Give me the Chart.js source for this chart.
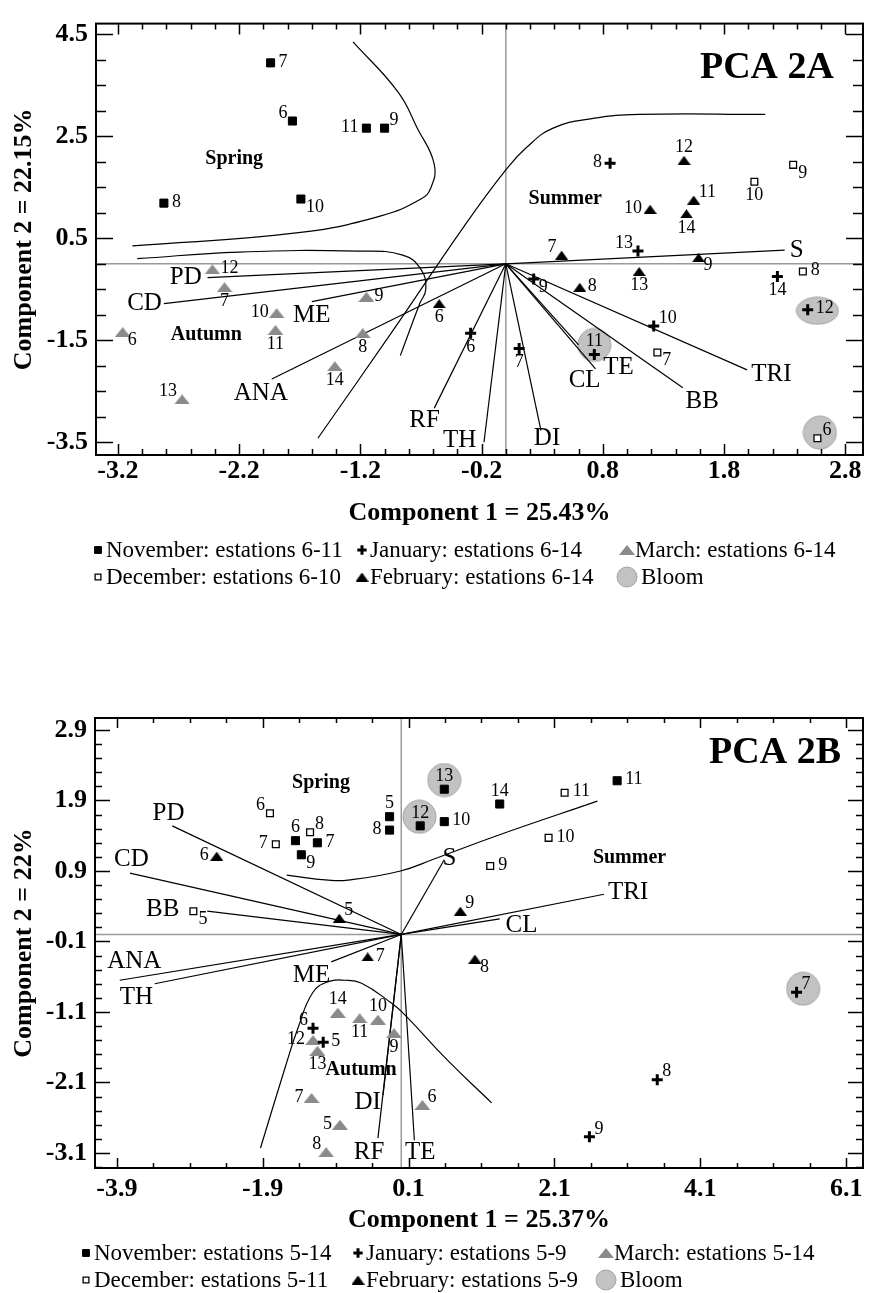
<!DOCTYPE html>
<html>
<head>
<meta charset="utf-8">
<script src="https://cdn.jsdelivr.net/npm/chart.js@4.4.1/dist/chart.umd.min.js"></script>
<style>
    body { margin: 0; background: #fff; }
    canvas { display: block; }
</style>
</head>
<body>
<canvas id="pcaA" width="872" height="640"></canvas>
<canvas id="pcaB" width="872" height="653"></canvas>
<script>
//#region PCA 2A - dados
const xTicksA = [-3.2, -2.2, -1.2, -0.2, 0.8, 1.8, 2.8]
const yTicksA = [-3.5, -1.5, 0.5, 2.5, 4.5]
const xRangeA = [-3.38, 2.946]
const yRangeA = [-3.749, 4.71]

const novA = [[-1.94, 3.94], [-1.76, 2.80], [-1.15, 2.66], [-1.00, 2.66], [-2.82, 1.19], [-1.69, 1.27]]
const novANum = ['7', '6', '11', '9', '8', '10']
const novALado = ['e', 'nw', 'w', 'ne', 'e', 'se']

const decA = [[2.37, 1.94], [2.05, 1.61], [2.45, -0.15], [1.25, -1.74], [2.57, -3.42]]
const decANum = ['9', '10', '8', '7', '6']
const decALado = ['se', 's', 'e', 'se', 'ne']

const janA = [[0.86, 1.97], [1.09, 0.25], [2.24, -0.25], [2.49, -0.90], [1.22, -1.22], [0.73, -1.78], [0.23, -0.30], [0.11, -1.66], [-0.29, -1.36]]
const janANum = ['8', '13', '14', '12', '10', '11', '9', '7', '6']
const janALado = ['w', 'nw', 's', 'e', 'ne', 'n', 'se', 's', 's']

const fevA = [[1.47, 2.03], [1.55, 1.25], [1.19, 1.07], [1.49, 0.98], [0.46, 0.17], [1.59, 0.12], [1.10, -0.15], [0.61, -0.46], [-0.55, -0.78]]
const fevANum = ['12', '11', '10', '14', '7', '9', '13', '8', '6']
const fevALado = ['n', 'ne', 'w', 's', 'nw', 'se', 's', 'e', 's']

const marA = [[-2.42, -0.11], [-2.32, -0.46], [-1.89, -0.97], [-1.90, -1.30], [-1.15, -0.65], [-1.18, -1.36], [-1.41, -2.01], [-3.16, -1.34], [-2.67, -2.66]]
const marANum = ['12', '7', '10', '11', '9', '8', '14', '6', '13']
const marALado = ['e', 's', 'w', 's', 'e', 's', 's', 'se', 'nw']

const bloomA = [[0.73, -1.59], [2.57, -0.92], [2.59, -3.31]]
const bloomAForma = ['redonda', 'larga', 'redonda']

const varA = ['S', 'TRI', 'BB', 'TE', 'CL', 'DI', 'TH', 'RF', 'ANA', 'ME', 'CD', 'PD']
const varAFim = [[2.30, 0.27], [1.99, -2.08], [1.46, -2.43], [0.60, -1.59], [0.74, -2.06], [0.29, -3.27], [-0.18, -3.50], [-0.59, -2.83], [-1.93, -2.26], [-1.60, -0.74], [-2.82, -0.78], [-2.46, -0.27]]
const varARotulo = [[2.40, 0.27], [2.19, -2.16], [1.62, -2.70], [0.93, -2.03], [0.65, -2.28], [0.34, -3.42], [-0.38, -3.46], [-0.67, -3.08], [-2.02, -2.54], [-1.60, -1.01], [-2.98, -0.78], [-2.64, -0.27]]

// limites das estacoes do ano
const springA = [[-1.26, 4.35], [-0.89, 3.37], [-0.73, 2.66], [-0.59, 1.95], [-0.62, 1.48], [-0.70, 1.27], [-1.03, 0.94], [-1.71, 0.61], [-3.08, 0.35]]
const summerA = [[-1.55, -3.42], [-0.94, -1.34], [-0.34, 0.75], [0.00, 1.84], [0.17, 2.28], [0.39, 2.66], [0.72, 2.85], [1.10, 2.93], [2.14, 2.93]]
const autumnA = [[-3.04, 0.10], [-2.20, 0.23], [-1.22, 0.25], [-0.85, 0.17], [-0.70, -0.11], [-0.66, -0.50], [-0.71, -0.78], [-0.87, -1.80]]
const estacoes = ['Spring', 'Summer', 'Autumn']
const estacoesAPos = [[-2.24, 2.05], [0.49, 1.27], [-2.47, -1.39]]

const legendaA = ['November: estations 6-11', 'January: estations 6-14', 'March: estations 6-14', 'December: estations 6-10', 'February: estations 6-14', 'Bloom']
//#endregion

//#region PCA 2B - dados
const xTicksB = [-3.9, -1.9, 0.1, 2.1, 4.1, 6.1]
const yTicksB = [-3.1, -2.1, -1.1, -0.1, 0.9, 1.9, 2.9]
const xRangeB = [-4.199, 6.331]
const yRangeB = [-3.313, 3.07]

const novB = [[-1.45, 1.33], [-1.15, 1.30], [-1.37, 1.13], [-0.16, 1.67], [-0.16, 1.48], [0.26, 1.54], [0.59, 2.06], [0.59, 1.60], [1.35, 1.85], [2.96, 2.18]]
const novBNum = ['6', '7', '9', '5', '8', '12', '13', '10', '14', '11']
const novBLado = ['n', 'e', 'se', 'n', 'w', 'n', 'n', 'e', 'n', 'e']

const decB = [[-1.80, 1.72], [-1.25, 1.45], [-1.72, 1.28], [2.24, 2.01], [2.02, 1.37], [1.22, 0.97], [-2.85, 0.33]]
const decBNum = ['6', '8', '7', '11', '10', '9', '5']
const decBLado = ['nw', 'ne', 'w', 'e', 'e', 'e', 'se']

const janB = [[5.42, -0.82], [3.51, -2.06], [2.58, -2.87], [-1.21, -1.33], [-1.07, -1.53]]
const janBNum = ['7', '8', '9', '6', '5']
const janBLado = ['ne', 'ne', 'ne', 'nw', 'e']

const fevB = [[-2.53, 1.11], [-0.85, 0.23], [-0.46, -0.32], [0.81, 0.33], [1.01, -0.35]]
const fevBNum = ['6', '5', '7', '9', '8']
const fevBLado = ['w', 'ne', 'e', 'ne', 'se']

const marB = [[-0.87, -1.11], [-0.57, -1.19], [-0.32, -1.21], [-0.10, -1.40], [-1.21, -1.50], [-1.15, -1.65], [-1.23, -2.32], [-0.84, -2.70], [0.29, -2.42], [-1.03, -3.09]]
const marBNum = ['14', '11', '10', '9', '12', '13', '7', '5', '6', '8']
const marBLado = ['n', 's', 'n', 's', 'w', 's', 'w', 'w', 'ne', 'nw']

const bloomB = [[0.25, 1.67], [0.59, 2.19], [5.51, -0.77]]
const bloomBForma = ['redonda', 'redonda', 'redonda']

const varB = ['PD', 'CD', 'BB', 'ANA', 'TH', 'ME', 'DI', 'RF', 'TE', 'S', 'TRI', 'CL']
const varBFim = [[-3.14, 1.54], [-3.72, 0.87], [-2.66, 0.33], [-3.86, -0.65], [-3.38, -0.70], [-0.96, -0.39], [-0.25, -2.28], [-0.32, -2.89], [0.18, -2.92], [0.59, 1.06], [2.78, 0.57], [1.35, 0.22]]
const varBRotulo = [[-3.19, 1.72], [-3.70, 1.06], [-3.27, 0.36], [-3.66, -0.39], [-3.63, -0.90], [-1.23, -0.58], [-0.46, -2.38], [-0.44, -3.09], [0.26, -3.09], [0.66, 1.08], [3.11, 0.59], [1.65, 0.13]]

const springB = [[-1.57, 0.84], [-1.00, 0.77], [-0.73, 0.77], [-0.01, 0.90], [0.45, 1.07], [1.31, 1.40], [2.69, 1.89]]
const autumnB = [[-1.93, -3.03], [-1.59, -1.88], [-1.41, -1.31], [-1.21, -0.82], [-1.00, -0.67], [-0.77, -0.65], [-0.55, -0.69], [-0.14, -0.97], [0.05, -1.14], [0.63, -1.78], [1.24, -2.39]]
const estacoesBPos = [[-1.10, 2.15], [3.13, 1.08], [-0.55, -1.92]]

const legendaB = ['November: estations 5-14', 'January: estations 5-9', 'March: estations 5-14', 'December: estations 5-11', 'February: estations 5-9', 'Bloom']
//#endregion

//#region marcadores
const serif = '"Liberation Serif", "Times New Roman", serif'
Chart.defaults.font.family = serif
Chart.defaults.color = '#000'

function triangulo(w, h, cor) {
    const c = document.createElement('canvas')
    c.width = w
    c.height = h
    const g = c.getContext('2d')
    g.fillStyle = cor
    g.beginPath()
    g.moveTo(w / 2, 0)
    g.lineTo(w, h)
    g.lineTo(0, h)
    g.closePath()
    g.fill()
    return c
}

function bolha(w, h) {
    const c = document.createElement('canvas')
    c.width = w + 2
    c.height = h + 2
    const g = c.getContext('2d')
    g.fillStyle = '#c2c2c2'
    g.strokeStyle = '#a2a2a2'
    g.beginPath()
    g.ellipse(c.width / 2, c.height / 2, w / 2, h / 2, 0, 0, Math.PI * 2)
    g.fill()
    g.stroke()
    return c
}

const bolhas = { redonda: bolha(33, 33), larga: bolha(42, 27) }

const estilos = {
    nov: { pointStyle: 'rect', radius: 5.7, fill: '#000', stroke: '#000', borda: 1 },
    dec: { pointStyle: 'rect', radius: 4.8, fill: '#fff', stroke: '#000', borda: 1.3 },
    jan: { pointStyle: 'cross', radius: 5.5, fill: '#000', stroke: '#000', borda: 3 },
    fev: { pointStyle: triangulo(13, 9, '#000'), radius: 5, fill: '#000', stroke: '#000', borda: 0 },
    mar: { pointStyle: triangulo(16, 10, '#8a8a8a'), radius: 5, fill: '#8a8a8a', stroke: '#8a8a8a', borda: 0 },
    bloom: { pointStyle: bolha(20, 20), radius: 10, fill: '#c2c2c2', stroke: '#a2a2a2', borda: 0 }
}
const serieLegenda = ['nov', 'jan', 'mar', 'dec', 'fev', 'bloom']
//#endregion

const pts = lista => lista.map(p => ({ x: p[0], y: p[1] }))

const lados = {
    e: [8, -1, 'left'], w: [-8, -1, 'right'], n: [0, -13, 'center'], s: [0, 14, 'center'],
    ne: [5, -8, 'left'], nw: [-5, -8, 'right'], se: [5, 8, 'left'], sw: [-5, 8, 'right']
}

// lista de marcas (maiores e menores) entre min e max
function marcas(maiores, passo, min, max) {
    const base = maiores[0]
    const intervalo = maiores[1] - maiores[0]
    const lista = []
    for (let k = Math.ceil((min - base) / passo - 1e-9); base + k * passo <= max + 1e-9; k++) {
        const v = base + k * passo
        const r = (v - base) / intervalo
        lista.push({ v: v, maior: Math.abs(r - Math.round(r)) < 1e-6 })
    }
    return lista
}

function montaDatasets(d) {
    const sets = []
    d.curvas.forEach(c => sets.push({
        data: pts(c), showLine: true, tension: 0.45, borderColor: '#000', borderWidth: 1.2, pointRadius: 0, order: 3
    }))
    d.vetores.forEach(v => sets.push({
        data: [{ x: 0, y: 0 }, { x: v[0], y: v[1] }], showLine: true, borderColor: '#000', borderWidth: 1.2, pointRadius: 0, order: 3
    }))
    sets.push({
        label: 'Bloom', data: pts(d.bloom), order: 4, pointRadius: 8,
        pointStyle: d.bloomForma.map(f => bolhas[f])
    })
    d.grupos.forEach(g => {
        const e = estilos[g.serie]
        sets.push({
            label: g.serie, data: pts(g.pts), order: 1,
            pointStyle: e.pointStyle, pointRadius: e.radius,
            pointBackgroundColor: e.fill, pointBorderColor: e.stroke, pointBorderWidth: e.borda
        })
    })
    return sets
}

function decoracao(d) {
    return {
        id: 'decoracao' + d.nome,
        beforeDatasetsDraw(chart) {
            const { ctx, chartArea: a, scales: { x, y } } = chart
            const x0 = x.getPixelForValue(0)
            const y0 = y.getPixelForValue(0)
            ctx.save()
            ctx.strokeStyle = '#9a9a9a'
            ctx.lineWidth = 1.5
            ctx.beginPath()
            ctx.moveTo(x0, a.top)
            ctx.lineTo(x0, a.bottom)
            ctx.moveTo(a.left, y0)
            ctx.lineTo(a.right, y0)
            ctx.stroke()
            ctx.restore()
        },
        afterDatasetsDraw(chart) {
            const { ctx, chartArea: a, scales: { x, y } } = chart
            ctx.save()
            ctx.strokeStyle = '#000'
            ctx.lineWidth = 2
            ctx.strokeRect(a.left, a.top, a.right - a.left, a.bottom - a.top)

            // marcas pra dentro nos quatro lados
            ctx.lineWidth = 1.5
            ctx.beginPath()
            marcas(d.xTicks, d.xPasso, x.min, x.max).forEach(m => {
                const px = Math.round(x.getPixelForValue(m.v)) + 0.5
                const len = m.maior ? d.marcaX[0] : d.marcaX[1]
                ctx.moveTo(px, a.top); ctx.lineTo(px, a.top + len)
                ctx.moveTo(px, a.bottom); ctx.lineTo(px, a.bottom - len)
            })
            marcas(d.yTicks, d.yPasso, y.min, y.max).forEach(m => {
                const py = Math.round(y.getPixelForValue(m.v)) + 0.5
                const len = m.maior ? d.marcaY[0] : d.marcaY[1]
                ctx.moveTo(a.left, py); ctx.lineTo(a.left + len, py)
                ctx.moveTo(a.right, py); ctx.lineTo(a.right - len, py)
            })
            ctx.stroke()

            ctx.fillStyle = '#000'
            ctx.textBaseline = 'middle'

            // numero das estacoes de coleta
            ctx.font = '18px ' + serif
            d.grupos.forEach(g => g.pts.forEach((p, i) => {
                const [dx, dy, al] = lados[g.lado[i]]
                ctx.textAlign = al
                ctx.fillText(g.num[i], x.getPixelForValue(p[0]) + dx, y.getPixelForValue(p[1]) + dy)
            }))

            // nomes das variaveis
            ctx.textAlign = 'center'
            ctx.font = '25px ' + serif
            d.nomesVar.forEach((n, i) => {
                ctx.fillText(n, x.getPixelForValue(d.rotulos[i][0]), y.getPixelForValue(d.rotulos[i][1]))
            })

            ctx.font = 'bold 20px ' + serif
            estacoes.forEach((n, i) => {
                ctx.fillText(n, x.getPixelForValue(d.estacoesPos[i][0]), y.getPixelForValue(d.estacoesPos[i][1]))
            })

            ctx.textAlign = 'right'
            ctx.font = 'bold 38px ' + serif
            ctx.fillText(d.titulo, a.right - d.tituloDx, a.top + d.tituloDy)
            ctx.restore()
        },
        afterDraw(chart) {
            const ctx = chart.ctx
            ctx.save()
            ctx.textBaseline = 'middle'
            ctx.textAlign = 'left'
            ctx.font = '23px ' + serif
            d.legenda.forEach((txt, i) => {
                const mx = d.legX[i % 3]
                const my = d.legY[Math.floor(i / 3)]
                const e = estilos[serieLegenda[i]]
                ctx.fillStyle = e.fill
                ctx.strokeStyle = e.stroke
                ctx.lineWidth = e.borda
                Chart.helpers.drawPoint(ctx, { pointStyle: e.pointStyle, radius: e.radius * 0.85, borderWidth: e.borda, rotation: 0 }, mx, my)
                ctx.fillStyle = '#000'
                ctx.fillText(txt, mx + (serieLegenda[i] == 'bloom' ? 14 : 8), my + 1)
            })
            ctx.restore()
        }
    }
}

function criaBiplot(id, d) {
    return new Chart(document.getElementById(id), {
        type: 'scatter',
        data: { datasets: montaDatasets(d) },
        options: {
            responsive: false,
            animation: false,
            devicePixelRatio: 1,
            events: [],
            layout: { padding: { top: d.topo, right: 3, left: 0, bottom: 0 } },
            plugins: { legend: { display: false }, tooltip: { enabled: false } },
            scales: {
                x: {
                    type: 'linear', min: d.xRange[0], max: d.xRange[1],
                    afterBuildTicks: s => { s.ticks = d.xTicks.map(v => ({ value: v })) },
                    afterFit: s => { s.height = d.alturaX },
                    grid: { display: false, drawTicks: false },
                    border: { display: false },
                    ticks: { autoSkip: false, maxRotation: 0, minRotation: 0, padding: d.padTickX, font: { size: 26, weight: 'bold' }, callback: v => v.toFixed(1) },
                    title: { display: true, text: d.tituloX, font: { size: 26, weight: 'bold' }, padding: { top: 0, bottom: d.padTituloX } }
                },
                y: {
                    type: 'linear', min: d.yRange[0], max: d.yRange[1],
                    afterBuildTicks: s => { s.ticks = d.yTicks.map(v => ({ value: v })) },
                    afterFit: s => { s.width = d.larguraY },
                    grid: { display: false, drawTicks: false },
                    border: { display: false },
                    ticks: { autoSkip: false, padding: 8, font: { size: 26, weight: 'bold' }, callback: v => v.toFixed(1) },
                    title: { display: true, text: d.tituloY, font: { size: 26, weight: 'bold' }, padding: { top: 9, bottom: 0 } }
                }
            }
        },
        plugins: [decoracao(d)]
    })
}

criaBiplot('pcaA', {
    nome: 'A', titulo: 'PCA 2A', tituloDx: 29, tituloDy: 45,
    tituloX: 'Component 1 = 25.43%', tituloY: 'Component 2 = 22.15%',
    xTicks: xTicksA, yTicks: yTicksA, xRange: xRangeA, yRange: yRangeA,
    xPasso: 0.2, yPasso: 0.5, marcaX: [11, 6], marcaY: [17, 10],
    topo: 13, larguraY: 96, alturaX: 185, padTickX: 1, padTituloX: 111,
    curvas: [springA, summerA, autumnA], vetores: varAFim, nomesVar: varA, rotulos: varARotulo,
    bloom: bloomA, bloomForma: bloomAForma, estacoesPos: estacoesAPos,
    grupos: [
        { serie: 'nov', pts: novA, num: novANum, lado: novALado },
        { serie: 'dec', pts: decA, num: decANum, lado: decALado },
        { serie: 'jan', pts: janA, num: janANum, lado: janALado },
        { serie: 'fev', pts: fevA, num: fevANum, lado: fevALado },
        { serie: 'mar', pts: marA, num: marANum, lado: marALado }
    ],
    legenda: legendaA, legX: [98, 362, 627], legY: [550, 577]
})

criaBiplot('pcaB', {
    nome: 'B', titulo: 'PCA 2B', tituloDx: 22, tituloDy: 35,
    tituloX: 'Component 1 = 25.37%', tituloY: 'Component 2 = 22%',
    xTicks: xTicksB, yTicks: yTicksB, xRange: xRangeB, yRange: yRangeB,
    xPasso: 0.5, yPasso: 0.2, marcaX: [10, 5], marcaY: [15, 7],
    topo: 78, larguraY: 95, alturaX: 125, padTickX: 6, padTituloX: 57,
    curvas: [springB, autumnB], vetores: varBFim, nomesVar: varB, rotulos: varBRotulo,
    bloom: bloomB, bloomForma: bloomBForma, estacoesPos: estacoesBPos,
    grupos: [
        { serie: 'nov', pts: novB, num: novBNum, lado: novBLado },
        { serie: 'dec', pts: decB, num: decBNum, lado: decBLado },
        { serie: 'jan', pts: janB, num: janBNum, lado: janBLado },
        { serie: 'fev', pts: fevB, num: fevBNum, lado: fevBLado },
        { serie: 'mar', pts: marB, num: marBNum, lado: marBLado }
    ],
    legenda: legendaB, legX: [86, 358, 606], legY: [613, 640]
})
</script>
</body>
</html>
